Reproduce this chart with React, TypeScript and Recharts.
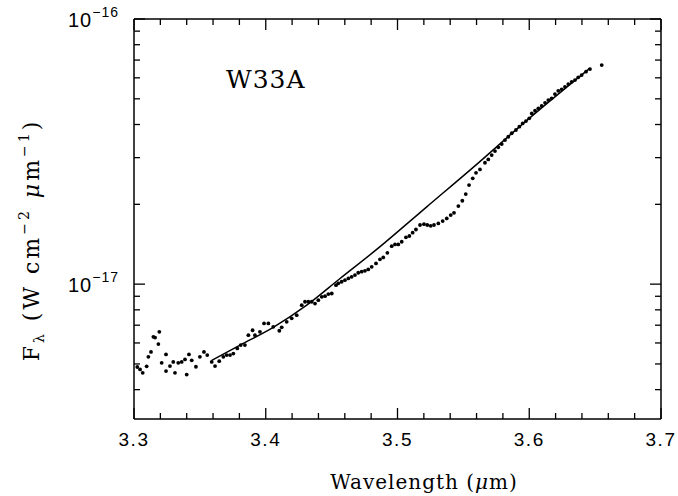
import React from 'react';
import { ComposedChart, XAxis, YAxis, Scatter, Line } from 'recharts';

// observed spectrum (flux in units of 1e-18 W cm^-2 um^-1)
const waveX = [
  3.3025, 3.3046, 3.3066, 3.3096, 3.3109, 3.3129, 3.3147, 3.316, 3.3185, 3.3192,
  3.321, 3.3243, 3.3243, 3.3273, 3.3298, 3.3311, 3.3336, 3.3362, 3.3387, 3.34,
  3.3417, 3.3438, 3.347, 3.35, 3.3531, 3.3556, 3.359, 3.3615, 3.3647, 3.3678,
  3.3703, 3.3729, 3.3754, 3.3784, 3.381, 3.3842, 3.3868, 3.39, 3.3918, 3.3956,
  3.3987, 3.402, 3.4057, 3.4103, 3.4121, 3.4159, 3.4197, 3.4235, 3.4273, 3.4298,
  3.4323, 3.4349, 3.4374, 3.4399, 3.4425, 3.445, 3.4475, 3.4501, 3.4533, 3.4551,
  3.4576, 3.4601, 3.4627, 3.4652, 3.4677, 3.4702, 3.4728, 3.4753, 3.4778, 3.4804,
  3.4837, 3.4867, 3.4892, 3.4923, 3.4956, 3.4981, 3.5006, 3.5032, 3.5064, 3.509,
  3.5115, 3.514, 3.5171, 3.5201, 3.5226, 3.5252, 3.5277, 3.531, 3.5343, 3.5374,
  3.5404, 3.5429, 3.5462, 3.5492, 3.5518, 3.5543, 3.5571, 3.5596, 3.5626, 3.5664,
  3.5689, 3.5715, 3.574, 3.5765, 3.5791, 3.5816, 3.5841, 3.5867, 3.5899, 3.5925,
  3.595, 3.5975, 3.6, 3.6019, 3.6044, 3.6069, 3.6094, 3.612, 3.6145, 3.617,
  3.6195, 3.622, 3.6246, 3.6271, 3.6296, 3.6322, 3.6347, 3.6372, 3.6398, 3.6431,
  3.6461, 3.655,
];
const fluxY = [
  4.87, 4.77, 4.63, 4.9, 5.32, 5.55, 6.33, 6.29, 5.94, 6.61,
  5.05, 5.43, 4.7, 4.91, 5.09, 4.63, 5.05, 5.09, 5.2, 4.56,
  5.43, 5.16, 4.88, 5.32, 5.55, 5.4, 5.09, 4.91, 5.12, 5.32,
  5.4, 5.4, 5.47, 5.72, 5.89, 5.89, 6.42, 6.7, 6.42, 6.61,
  7.11, 7.11, 6.9, 6.67, 6.87, 7.21, 7.43, 7.64, 8.33, 8.58,
  8.58, 8.58, 8.45, 8.7, 8.96, 9.01, 9.17, 9.22, 9.91, 10.07,
  10.21, 10.35, 10.51, 10.66, 10.82, 11.04, 11.14, 11.23, 11.36, 11.62,
  11.97, 12.4, 12.61, 13.13, 13.91, 14.12, 14.12, 14.45, 15.01, 15.19,
  15.63, 16.07, 16.71, 16.84, 16.71, 16.6, 16.71, 16.95, 17.29, 17.7,
  18.22, 18.58, 19.69, 20.63, 21.87, 23.64, 25.06, 26.3, 27.09, 28.7,
  29.54, 30.68, 31.77, 32.81, 33.75, 34.94, 35.97, 37.07, 38.13, 39.26,
  40.39, 41.22, 42.2, 44.06, 45.08, 46.03, 46.97, 48.3, 49.45, 50.2,
  52.1, 53.6, 54.3, 55.5, 56.85, 57.97, 58.85, 60.25, 61.46, 63.27,
  64.74, 67.05,
];

// continuum fit
const fitX = [3.359, 3.3805, 3.4057, 3.4311, 3.4564, 3.4842, 3.5222, 3.5601, 3.5975, 3.6461];
const fitY = [5.16, 5.89, 6.87, 8.33, 10.5, 13.52, 19.57, 28.3, 41.2, 65.3];

const xTicks = [
  3.3, 3.32, 3.34, 3.36, 3.38, 3.4, 3.42, 3.44, 3.46, 3.48, 3.5,
  3.52, 3.54, 3.56, 3.58, 3.6, 3.62, 3.64, 3.66, 3.68, 3.7,
];
const yTicks = [4, 5, 6, 7, 8, 9, 10, 20, 30, 40, 50, 60, 70, 80, 90, 100];
const yMajorExp: Record<number, string> = { 10: '\u221217', 100: '\u221216' };

const specData = waveX.map((x, i) => ({ x, y: fluxY[i] }));
const fitData = fitX.map((x, i) => ({ x, y: fitY[i] }));

const W = 678;
const H = 496;
const numFont = '"Liberation Sans", Arial, sans-serif';
const serif = '"DejaVu Serif", serif';

const isMajorX = (v: number) => Math.abs(v * 10 - Math.round(v * 10)) < 1e-6;

const BottomTick = (props: any) => {
  const { x, y, payload } = props;
  const major = isMajorX(payload.value);
  return (
    <g>
      <line x1={x} x2={x} y1={y} y2={y - (major ? 11 : 6)} stroke="#000" strokeWidth={1.3} />
      {major && (
        <text x={x} y={y + 27} textAnchor="middle" fontFamily={numFont} fontSize={19} letterSpacing={1.5} fill="#000">
          {payload.value.toFixed(1)}
        </text>
      )}
    </g>
  );
};

const TopTick = (props: any) => {
  const { x, y, payload } = props;
  const major = isMajorX(payload.value);
  return <line x1={x} x2={x} y1={y} y2={y + (major ? 11 : 6)} stroke="#000" strokeWidth={1.3} />;
};

const LeftTick = (props: any) => {
  const { x, y, payload } = props;
  const exp = yMajorExp[payload.value];
  return (
    <g>
      <line x1={x} x2={x + (exp ? 11 : 6)} y1={y} y2={y} stroke="#000" strokeWidth={1.3} />
      {exp && (
        <text x={x - 15} y={y + 8} textAnchor="end" fontFamily={numFont} fontSize={20} letterSpacing={1} fill="#000">
          10
          <tspan dy={-10} fontSize={14}>{exp}</tspan>
        </text>
      )}
    </g>
  );
};

const RightTick = (props: any) => {
  const { x, y, payload } = props;
  const major = yMajorExp[payload.value];
  return <line x1={x} x2={x - (major ? 11 : 6)} y1={y} y2={y} stroke="#000" strokeWidth={1.3} />;
};

const dotShape = (p: any) => <circle cx={p.cx} cy={p.cy} r={1.9} fill="#000" />;

const axisLine = { stroke: '#000', strokeWidth: 1.5 };

export default function App() {
  return (
    <div style={{ position: 'absolute', left: 0, top: 0, width: W, height: H, background: '#fff' }}>
      <ComposedChart width={W} height={H} margin={{ top: 18, right: 16, bottom: 76, left: 133 }}>
        <XAxis
          xAxisId={0}
          dataKey="x"
          type="number"
          domain={[3.3, 3.7]}
          allowDataOverflow
          ticks={xTicks}
          interval={0}
          height={1}
          tickSize={0}
          tickMargin={0}
          axisLine={axisLine}
          tickLine={false}
          tick={<BottomTick />}
        />
        <XAxis
          xAxisId="top"
          orientation="top"
          dataKey="x"
          type="number"
          domain={[3.3, 3.7]}
          allowDataOverflow
          ticks={xTicks}
          interval={0}
          height={1}
          tickSize={0}
          tickMargin={0}
          axisLine={axisLine}
          tickLine={false}
          tick={<TopTick />}
        />
        <YAxis
          yAxisId={0}
          dataKey="y"
          type="number"
          scale="log"
          domain={[3.1, 100]}
          allowDataOverflow
          ticks={yTicks}
          interval={0}
          width={1}
          tickSize={0}
          tickMargin={0}
          axisLine={axisLine}
          tickLine={false}
          tick={<LeftTick />}
        />
        <YAxis
          yAxisId="right"
          orientation="right"
          dataKey="y"
          type="number"
          scale="log"
          domain={[3.1, 100]}
          allowDataOverflow
          ticks={yTicks}
          interval={0}
          width={1}
          tickSize={0}
          tickMargin={0}
          axisLine={axisLine}
          tickLine={false}
          tick={<RightTick />}
        />
        <Line
          data={fitData}
          dataKey="y"
          type="monotone"
          stroke="#000"
          strokeWidth={1.5}
          dot={false}
          isAnimationActive={false}
        />
        <Scatter data={specData} dataKey="y" shape={dotShape} isAnimationActive={false} />
        <text x={226} y={88} fontFamily={serif} fontSize={25} letterSpacing={1} fill="#000">W33A</text>
        <text x={424} y={489} textAnchor="middle" fontFamily={serif} fontSize={20} letterSpacing={1} fill="#000">
          Wavelength (<tspan fontStyle="italic">{'\u03bc'}</tspan>m)
        </text>
        <text transform="rotate(-90)" x={-240} y={39} textAnchor="middle" fontFamily={serif} fontSize={22} letterSpacing={3} fill="#000">
          F<tspan fontSize={14} dy={5}>{'\u03bb'}</tspan>
          <tspan dy={-5}>{' (W cm'}</tspan>
          <tspan fontSize={14} dy={-10}>{'\u22122'}</tspan>
          <tspan dy={10}>{' '}</tspan>
          <tspan fontStyle="italic">{'\u03bc'}</tspan>m
          <tspan fontSize={14} dy={-10}>{'\u22121'}</tspan>
          <tspan dy={10}>)</tspan>
        </text>
      </ComposedChart>
    </div>
  );
}
